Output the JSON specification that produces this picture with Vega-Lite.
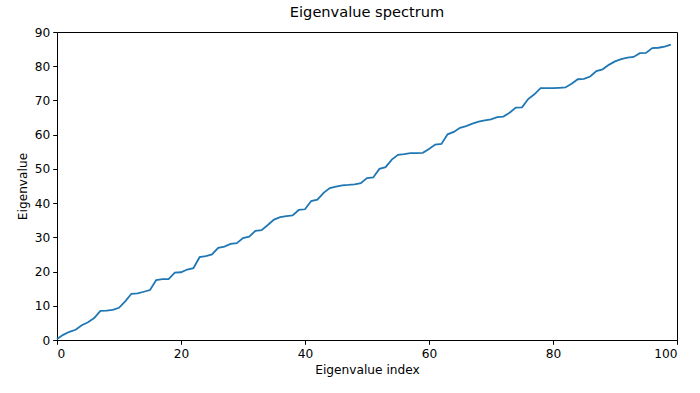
{
  "$schema": "https://vega.github.io/schema/vega-lite/v6.json",
  "width": 620,
  "height": 308,
  "autosize": {"type": "none"},
  "padding": {"left": 57, "top": 32, "right": 23, "bottom": 53},
  "background": "white",
  "title": {"text": "Eigenvalue spectrum", "font": "DejaVu Sans", "fontSize": 14.6, "fontWeight": "normal", "color": "black", "offset": 6},
  "config": {
    "view": {"stroke": "black", "strokeWidth": 1},
    "axis": {"grid": false, "labelFont": "DejaVu Sans", "titleFont": "DejaVu Sans", "labelFontSize": 12.2, "titleFontSize": 12.2, "titleFontWeight": "normal", "labelColor": "black", "titleColor": "black", "tickColor": "black", "domainColor": "black", "tickSize": 4.3, "tickWidth": 1, "domainWidth": 1, "labelPadding": 3}
  },
  "data": {"values": [
    {"i":0,"v":0.3},{"i":1,"v":1.5},{"i":2,"v":2.4},{"i":3,"v":3.0},{"i":4,"v":4.3},
    {"i":5,"v":5.2},{"i":6,"v":6.4},{"i":7,"v":8.5},{"i":8,"v":8.6},{"i":9,"v":8.8},
    {"i":10,"v":9.4},{"i":11,"v":11.3},{"i":12,"v":13.5},{"i":13,"v":13.6},{"i":14,"v":14.1},
    {"i":15,"v":14.6},{"i":16,"v":17.5},{"i":17,"v":17.8},{"i":18,"v":17.8},{"i":19,"v":19.7},
    {"i":20,"v":19.8},{"i":21,"v":20.6},{"i":22,"v":21.0},{"i":23,"v":24.2},{"i":24,"v":24.5},
    {"i":25,"v":25.0},{"i":26,"v":26.9},{"i":27,"v":27.3},{"i":28,"v":28.1},{"i":29,"v":28.3},
    {"i":30,"v":29.8},{"i":31,"v":30.2},{"i":32,"v":31.9},{"i":33,"v":32.1},{"i":34,"v":33.6},
    {"i":35,"v":35.2},{"i":36,"v":35.9},{"i":37,"v":36.2},{"i":38,"v":36.4},{"i":39,"v":38.0},
    {"i":40,"v":38.2},{"i":41,"v":40.6},{"i":42,"v":41.0},{"i":43,"v":43.0},{"i":44,"v":44.4},
    {"i":45,"v":44.8},{"i":46,"v":45.2},{"i":47,"v":45.3},{"i":48,"v":45.5},{"i":49,"v":45.8},
    {"i":50,"v":47.3},{"i":51,"v":47.5},{"i":52,"v":50.0},{"i":53,"v":50.5},{"i":54,"v":52.7},
    {"i":55,"v":54.1},{"i":56,"v":54.3},{"i":57,"v":54.6},{"i":58,"v":54.6},{"i":59,"v":54.7},
    {"i":60,"v":55.8},{"i":61,"v":57.1},{"i":62,"v":57.3},{"i":63,"v":60.1},{"i":64,"v":60.8},
    {"i":65,"v":62.0},{"i":66,"v":62.5},{"i":67,"v":63.2},{"i":68,"v":63.8},{"i":69,"v":64.2},
    {"i":70,"v":64.5},{"i":71,"v":65.1},{"i":72,"v":65.3},{"i":73,"v":66.4},{"i":74,"v":67.9},
    {"i":75,"v":68.0},{"i":76,"v":70.4},{"i":77,"v":71.8},{"i":78,"v":73.6},{"i":79,"v":73.6},
    {"i":80,"v":73.6},{"i":81,"v":73.7},{"i":82,"v":73.8},{"i":83,"v":74.9},{"i":84,"v":76.2},
    {"i":85,"v":76.3},{"i":86,"v":77.0},{"i":87,"v":78.6},{"i":88,"v":79.1},{"i":89,"v":80.4},
    {"i":90,"v":81.4},{"i":91,"v":82.1},{"i":92,"v":82.5},{"i":93,"v":82.7},{"i":94,"v":83.8},
    {"i":95,"v":83.9},{"i":96,"v":85.3},{"i":97,"v":85.4},{"i":98,"v":85.7},{"i":99,"v":86.3}
  ]},
  "mark": {"type": "line", "color": "#1f77b4", "strokeWidth": 1.8},
  "encoding": {
    "x": {"field": "i", "type": "quantitative", "title": "Eigenvalue index", "scale": {"domain": [0, 100], "nice": false}, "axis": {"values": [0, 20, 40, 60, 80, 100], "titlePadding": 4}},
    "y": {"field": "v", "type": "quantitative", "title": "Eigenvalue", "scale": {"domain": [0, 90], "nice": false}, "axis": {"values": [0, 10, 20, 30, 40, 50, 60, 70, 80, 90], "titlePadding": 5}}
  }
}
